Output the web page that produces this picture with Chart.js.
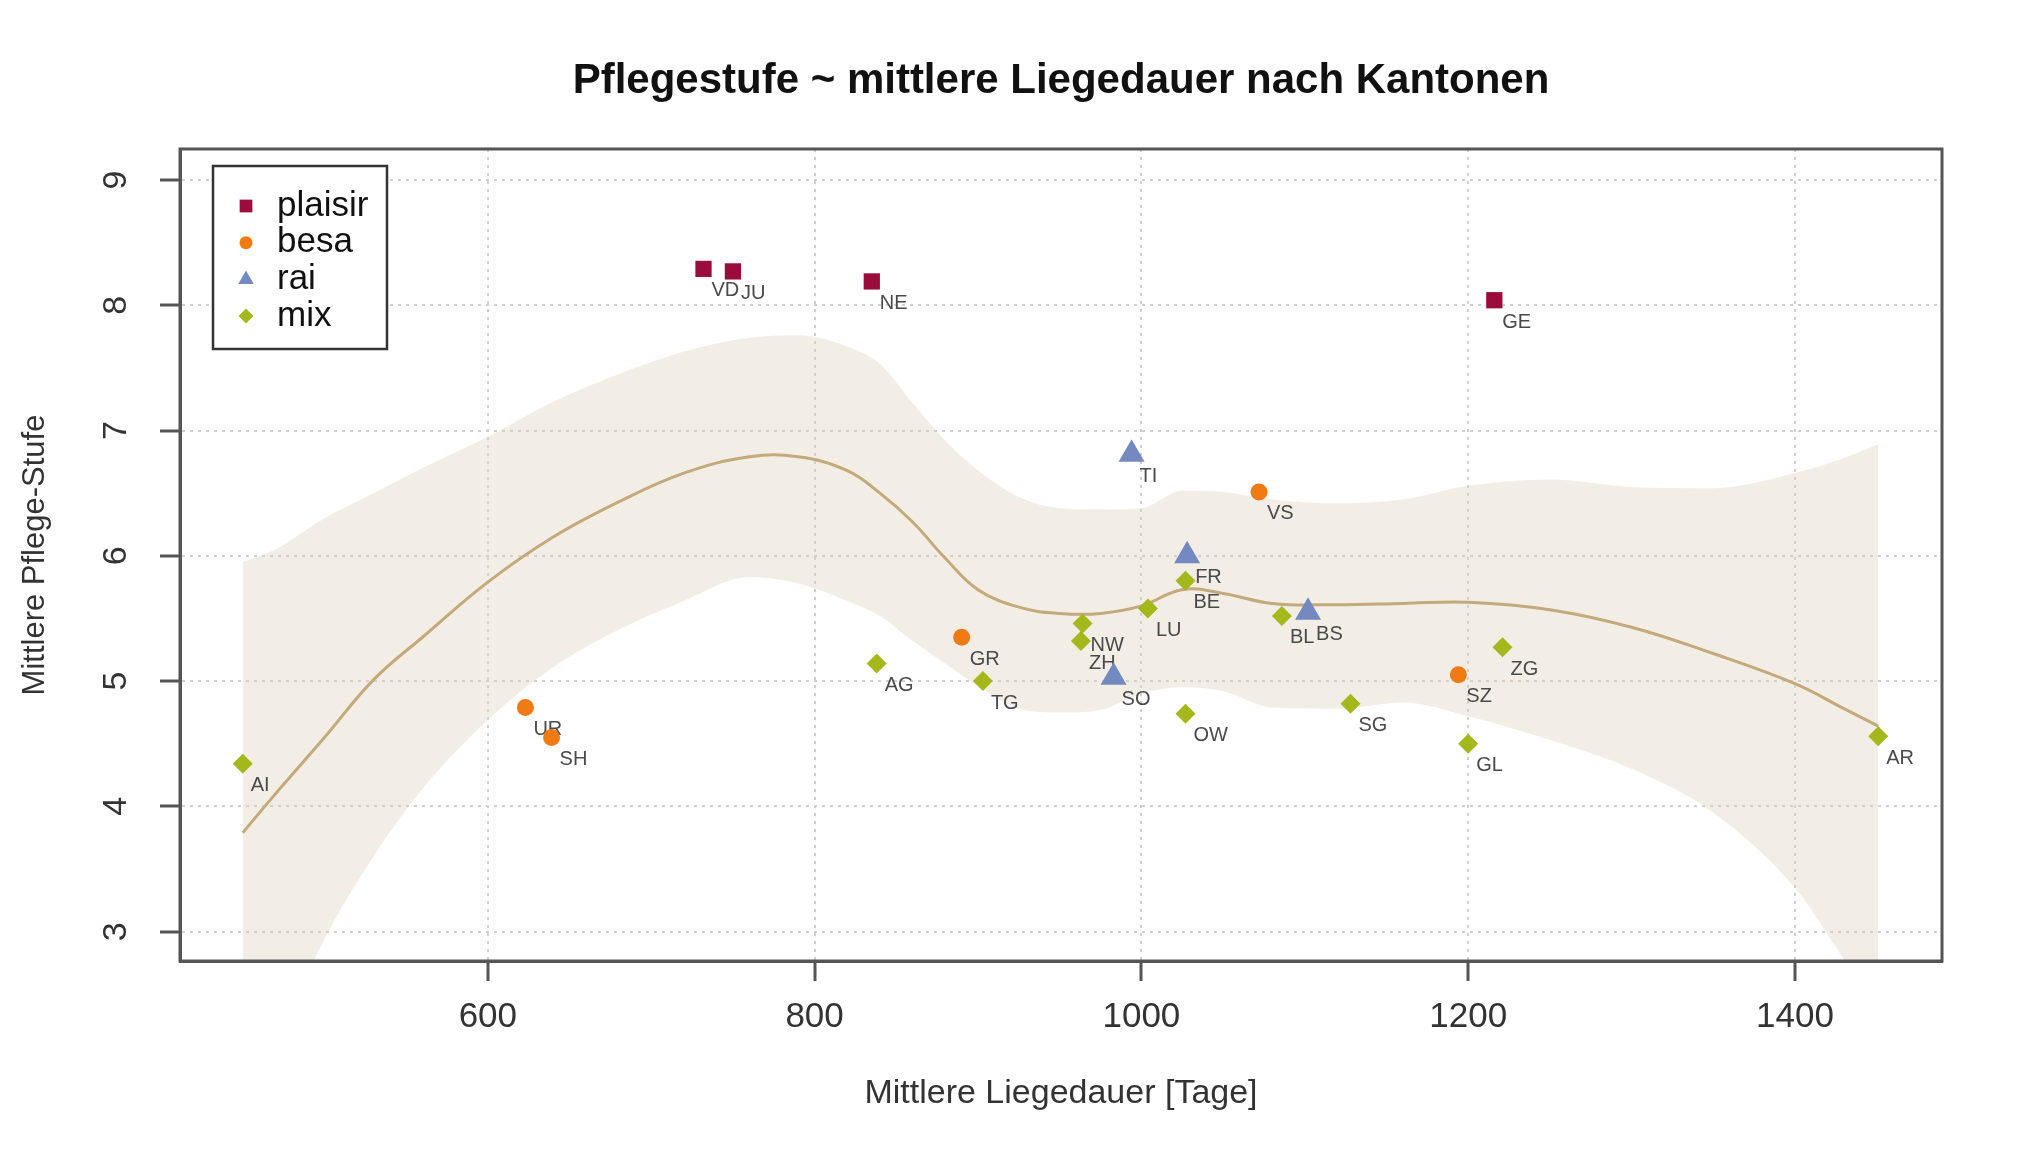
<!DOCTYPE html>
<html>
<head>
<meta charset="utf-8">
<title>Pflegestufe ~ mittlere Liegedauer nach Kantonen</title>
<script src="https://cdn.jsdelivr.net/npm/chart.js@4.4.1/dist/chart.umd.min.js"></script>
<style>
  html, body { margin: 0; padding: 0; background: #fff; }
  #wrap { width: 2029px; height: 1151px; }
</style>
</head>
<body>
<div id="wrap"><canvas id="canvas" width="2029" height="1151"></canvas></div>
<script>
// Kantone nach Erfassungssystem (x = mittlere Liegedauer, y = mittlere Pflegestufe)
var plaisirKt = ['VD', 'JU', 'NE', 'GE'];
var plaisirX = [732, 750, 835, 1216];
var plaisirY = [8.29, 8.27, 8.19, 8.04];

var besaKt = ['UR', 'SH', 'GR', 'VS', 'SZ'];
var besaX = [623, 639, 890, 1072, 1194];
var besaY = [4.79, 4.55, 5.35, 6.51, 5.05];

var raiKt = ['TI', 'FR', 'SO', 'BS'];
var raiX = [994, 1028, 983, 1102];
var raiY = [6.81, 6.00, 5.03, 5.55];

var mixKt = ['AI', 'AG', 'TG', 'NW', 'ZH', 'LU', 'BE', 'OW', 'BL', 'SG', 'ZG', 'GL', 'AR'];
var mixX = [450, 838, 903, 964, 963, 1004, 1027, 1027, 1086, 1128, 1221, 1200, 1451];
var mixY = [4.34, 5.14, 5.00, 5.46, 5.32, 5.58, 5.80, 4.74, 5.52, 4.82, 5.27, 4.50, 4.56];

// loess-Glaettung mit Vertrauensband
var fitX = [450, 470, 500, 530, 560, 600, 640, 680, 720, 760, 790, 820, 840, 860, 880, 900,
            925, 950, 975, 1000, 1025, 1050, 1080, 1120, 1160, 1200, 1250, 1300, 1350, 1400, 1430, 1451];
var fitY = [3.79, 4.10, 4.55, 5.01, 5.35, 5.79, 6.15, 6.43, 6.66, 6.79, 6.79, 6.68, 6.50, 6.27, 5.98, 5.73,
            5.59, 5.54, 5.54, 5.60, 5.73, 5.70, 5.62, 5.61, 5.62, 5.63, 5.57, 5.43, 5.22, 4.98, 4.78, 4.64];
var bandHi = [5.95, 6.05, 6.30, 6.50, 6.70, 6.95, 7.23, 7.45, 7.63, 7.74, 7.76, 7.67, 7.53, 7.22, 6.92, 6.68,
              6.47, 6.38, 6.37, 6.38, 6.52, 6.51, 6.45, 6.42, 6.45, 6.56, 6.61, 6.55, 6.54, 6.66, 6.78, 6.89];
var bandLo = [1.50, 2.10, 2.94, 3.60, 4.14, 4.69, 5.11, 5.41, 5.64, 5.83, 5.78, 5.64, 5.52, 5.32, 5.14, 4.96,
              4.78, 4.75, 4.77, 4.90, 4.95, 4.92, 4.79, 4.78, 4.83, 4.72, 4.53, 4.30, 3.95, 3.35, 2.78, 2.40];

var xTicks = [600, 800, 1000, 1200, 1400];
var yTicks = [3, 4, 5, 6, 7, 8, 9];

var colPlaisir = '#9B0B3C';
var colBesa = '#F07A14';
var colRai = '#7389C0';
var colMix = '#A4B81C';
var fontFam = '"Liberation Sans", Arial, sans-serif';

Chart.defaults.font.family = fontFam;

function pts(xs, ys) {
    return xs.map(function(x, i) { return {x: x, y: ys[i]}; });
}

// Kantonskuerzel neben die Punkte schreiben (ueber dem Band, unter Linie und Punkten)
var kantonLabels = {
    id: 'kantonLabels',
    afterDatasetDraw: function(chart, args) {
        if (chart.data.datasets[args.index].label !== 'band_hi') return;
        var ctx = chart.ctx;
        ctx.save();
        ctx.font = '20px ' + fontFam;
        ctx.fillStyle = '#4a4a4a';
        ctx.textAlign = 'left';
        ctx.textBaseline = 'middle';
        chart.data.datasets.forEach(function(ds, i) {
            if (!ds.kantone) return;
            chart.getDatasetMeta(i).data.forEach(function(p, j) {
                ctx.fillText(ds.kantone[j], p.x + 8, p.y + 22);
            });
        });
        ctx.restore();
    }
};

// Rahmen, Legende im Plot und Titel (wie in R)
var rStyle = {
    id: 'rStyle',
    afterDraw: function(chart) {
        var ctx = chart.ctx;
        var ca = chart.chartArea;
        ctx.save();
        ctx.setLineDash([]);
        ctx.strokeStyle = '#555';
        ctx.lineWidth = 3;
        ctx.strokeRect(ca.left, ca.top, ca.right - ca.left, ca.bottom - ca.top);

        // Legende
        var lx = ca.left + 33, ly = ca.top + 17, lw = 174, lh = 183;
        ctx.fillStyle = '#fff';
        ctx.fillRect(lx, ly, lw, lh);
        ctx.strokeStyle = '#333';
        ctx.lineWidth = 2.5;
        ctx.strokeRect(lx, ly, lw, lh);
        var sizes = {rect: 9, circle: 6.5, triangle: 9, rectRot: 7.5};
        ctx.font = '35px ' + fontFam;
        ctx.textAlign = 'left';
        ctx.textBaseline = 'middle';
        chart.data.datasets.filter(function(ds) { return ds.kantone; }).forEach(function(ds, k) {
            var y = ly + 40 + k * 36.7;
            ctx.fillStyle = ds.backgroundColor;
            Chart.helpers.drawPoint(ctx, {pointStyle: ds.pointStyle, radius: sizes[ds.pointStyle], rotation: 0, borderWidth: 0}, lx + 33, y);
            ctx.fillStyle = '#111';
            ctx.fillText(ds.label, lx + 64, y);
        });

        // Titel
        ctx.fillStyle = '#111';
        ctx.font = 'bold 42px ' + fontFam;
        ctx.textAlign = 'center';
        ctx.fillText('Pflegestufe ~ mittlere Liegedauer nach Kantonen', (ca.left + ca.right) / 2, 81);
        ctx.restore();
    }
};

var gridOpts = {
    color: '#cfcfcf',
    lineWidth: 2,
    tickLength: 20,
    tickColor: '#555',
    tickWidth: 3,
    tickBorderDash: []
};
// in Chart.js v4 steuert border.dash die Strichelung der Gitterlinien
var borderOpts = { display: true, color: '#555', width: 3, dash: [3, 5] };

var config = {
    type: 'scatter',
    data: {
        datasets: [
            {
                type: 'line', label: 'band_lo', data: pts(fitX, bandLo),
                borderWidth: 0, borderColor: 'rgba(0,0,0,0)', pointRadius: 0,
                fill: false, cubicInterpolationMode: 'monotone', order: 3
            },
            {
                type: 'line', label: 'band_hi', data: pts(fitX, bandHi),
                borderWidth: 0, borderColor: 'rgba(0,0,0,0)', pointRadius: 0,
                fill: '-1', backgroundColor: 'rgba(222,212,190,0.4)',
                cubicInterpolationMode: 'monotone', order: 3
            },
            {
                type: 'line', label: 'loess', data: pts(fitX, fitY),
                borderWidth: 3, borderColor: '#C3A97B', pointRadius: 0,
                fill: false, tension: 0.4, order: 2
            },
            {
                label: 'plaisir', data: pts(plaisirX, plaisirY), kantone: plaisirKt,
                pointStyle: 'rect', pointRadius: 11.5, backgroundColor: colPlaisir,
                borderWidth: 0, order: 1
            },
            {
                label: 'besa', data: pts(besaX, besaY), kantone: besaKt,
                pointStyle: 'circle', pointRadius: 8.5, backgroundColor: colBesa,
                borderWidth: 0, order: 1
            },
            {
                label: 'rai', data: pts(raiX, raiY), kantone: raiKt,
                pointStyle: 'triangle', pointRadius: 15, backgroundColor: colRai,
                borderWidth: 0, order: 1
            },
            {
                label: 'mix', data: pts(mixX, mixY), kantone: mixKt,
                pointStyle: 'rectRot', pointRadius: 10, backgroundColor: colMix,
                borderWidth: 0, order: 1
            }
        ]
    },
    options: {
        responsive: false,
        animation: false,
        events: [],
        layout: { padding: { left: 0, top: 149, right: 87, bottom: 0 } },
        plugins: {
            legend: { display: false },
            title: { display: false },
            tooltip: { enabled: false }
        },
        scales: {
            x: {
                type: 'linear', min: 411.6, max: 1490,
                afterBuildTicks: function(axis) { axis.ticks = xTicks.map(function(v) { return {value: v}; }); },
                afterFit: function(axis) { axis.height = 190; },
                grid: gridOpts,
                border: borderOpts,
                ticks: {
                    padding: 15, color: '#333', font: { size: 35 }, minRotation: 0, maxRotation: 0,
                    callback: function(v) { return String(v); }
                },
                title: {
                    display: true, text: 'Mittlere Liegedauer [Tage]', color: '#333',
                    font: { size: 34 }, padding: { top: 0, bottom: 37 }
                }
            },
            y: {
                type: 'linear', min: 2.766, max: 9.247,
                afterBuildTicks: function(axis) { axis.ticks = yTicks.map(function(v) { return {value: v}; }); },
                afterFit: function(axis) { axis.width = 180; },
                grid: gridOpts,
                border: borderOpts,
                ticks: {
                    minRotation: 90, maxRotation: 90, crossAlign: 'center', padding: 34,
                    color: '#333', font: { size: 34 },
                    callback: function(v) { return String(v); }
                },
                title: {
                    display: true, text: 'Mittlere Pflege-Stufe', color: '#333',
                    font: { size: 31 }, padding: { top: 17, bottom: 0 }
                }
            }
        }
    },
    plugins: [kantonLabels, rStyle]
};

var ctx = document.getElementById('canvas');
window.myChart = new Chart(ctx, config);
</script>
</body>
</html>
